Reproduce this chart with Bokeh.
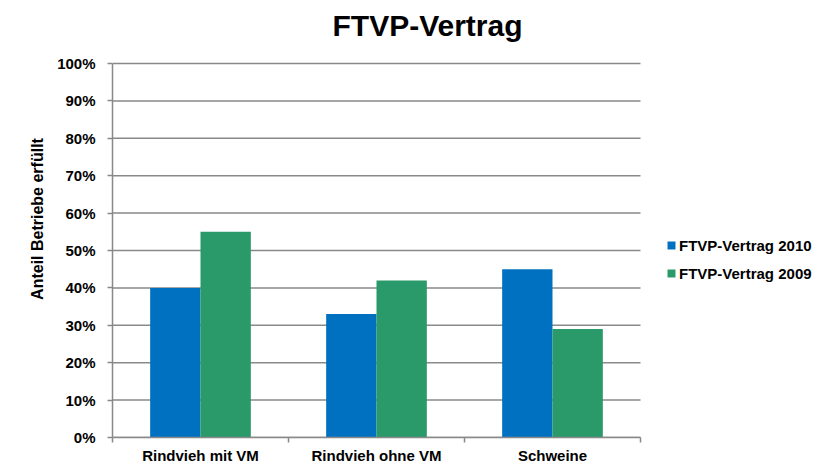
from bokeh.plotting import figure
from bokeh.models import (ColumnDataSource, FixedTicker, NumeralTickFormatter, Range1d,
                          Legend, LegendItem, Label)
from bokeh.embed import file_html
from bokeh.resources import INLINE

categories = ["Rindvieh mit VM", "Rindvieh ohne VM", "Schweine"]
series_names = ["FTVP-Vertrag 2010", "FTVP-Vertrag 2009"]
values_2010 = [0.40, 0.33, 0.45]
values_2009 = [0.55, 0.42, 0.29]
y_ticks = [0, 0.1, 0.2, 0.3, 0.4, 0.5, 0.6, 0.7, 0.8, 0.9, 1.0]

FONT = "Liberation Sans"
GRAY = "#898989"
BLUE = "#0070C0"
GREEN = "#2A9A6B"
BW = 0.286

W, H = 835, 466
LEFT, BOTTOM = 112, 29
CAT_PX = 176          # pixel width of one category
PLOT_TOP = 63         # pixel position of the 100% line

n = len(categories)
centers = [i + 0.5 for i in range(n)]

frame_w = W - LEFT
frame_h = H - BOTTOM
p = figure(width=W, height=H, output_backend="svg", toolbar_location=None,
           x_range=Range1d(0, frame_w / CAT_PX),
           y_range=Range1d(0, frame_h / (frame_h - PLOT_TOP)),
           min_border_left=LEFT, min_border_right=0, min_border_top=0, min_border_bottom=BOTTOM)
p.outline_line_color = None
p.background_fill_color = "white"
p.border_fill_color = "white"

# horizontal grid lines, limited to the plot area
p.segment(x0=0, x1=n, y0=y_ticks, y1=y_ticks, line_color=GRAY, line_width=1.5)

src10 = ColumnDataSource(dict(x=[c - BW / 2 for c in centers], top=values_2010))
src09 = ColumnDataSource(dict(x=[c + BW / 2 for c in centers], top=values_2009))
r10 = p.vbar(x="x", top="top", width=BW, bottom=0, source=src10, fill_color=BLUE, line_color=None)
r09 = p.vbar(x="x", top="top", width=BW, bottom=0, source=src09, fill_color=GREEN, line_color=None)

p.xgrid.visible = False
p.ygrid.visible = False

# x axis
xa = p.xaxis[0]
xa.bounds = (0, n)
xa.ticker = FixedTicker(ticks=centers, minor_ticks=list(range(n + 1)))
xa.major_label_overrides = {c: name for c, name in zip(centers, categories)}
xa.major_tick_out = 0
xa.major_tick_in = 0
xa.minor_tick_out = 5
xa.minor_tick_in = 0
xa.minor_tick_line_color = GRAY
xa.minor_tick_line_width = 1.5
xa.axis_line_color = GRAY
xa.axis_line_width = 1.5
xa.major_label_text_font = FONT
xa.major_label_text_font_style = "bold"
xa.major_label_text_font_size = "15px"
xa.major_label_text_color = "black"
xa.major_label_standoff = 4

# y axis
ya = p.yaxis[0]
ya.bounds = (0, 1)
ya.ticker = FixedTicker(ticks=y_ticks)
ya.formatter = NumeralTickFormatter(format="0%")
ya.major_tick_out = 5
ya.major_tick_in = 0
ya.minor_tick_out = 0
ya.minor_tick_in = 0
ya.major_tick_line_color = GRAY
ya.major_tick_line_width = 1.5
ya.axis_line_color = GRAY
ya.axis_line_width = 1.5
ya.major_label_text_font = FONT
ya.major_label_text_font_style = "bold"
ya.major_label_text_font_size = "15px"
ya.major_label_text_color = "black"
ya.major_label_standoff = 12
ya.axis_label = "Anteil Betriebe erfüllt"
ya.axis_label_text_font = FONT
ya.axis_label_text_font_style = "bold"
ya.axis_label_text_font_size = "16px"
ya.axis_label_text_color = "black"
ya.axis_label_standoff = 8

legend = Legend(items=[LegendItem(label=series_names[0], renderers=[r10]),
                       LegendItem(label=series_names[1], renderers=[r09])],
                location=(554, 155), orientation="vertical")
legend.padding = 0
legend.margin = 0
legend.spacing = 10
legend.glyph_width = 10
legend.glyph_height = 10
legend.label_height = 18
legend.label_standoff = 3
legend.label_text_font = FONT
legend.label_text_font_style = "bold"
legend.label_text_font_size = "15px"
legend.label_text_color = "black"
legend.border_line_color = None
legend.background_fill_alpha = 0
p.add_layout(legend, "center")

title = Label(x=315, y=frame_h - 25, x_units="screen", y_units="screen", text="FTVP-Vertrag",
              text_font=FONT, text_font_style="bold", text_font_size="30px",
              text_align="center", text_baseline="alphabetic", text_color="black")
p.add_layout(title)

open("out.html", "w").write(file_html(p, INLINE))
